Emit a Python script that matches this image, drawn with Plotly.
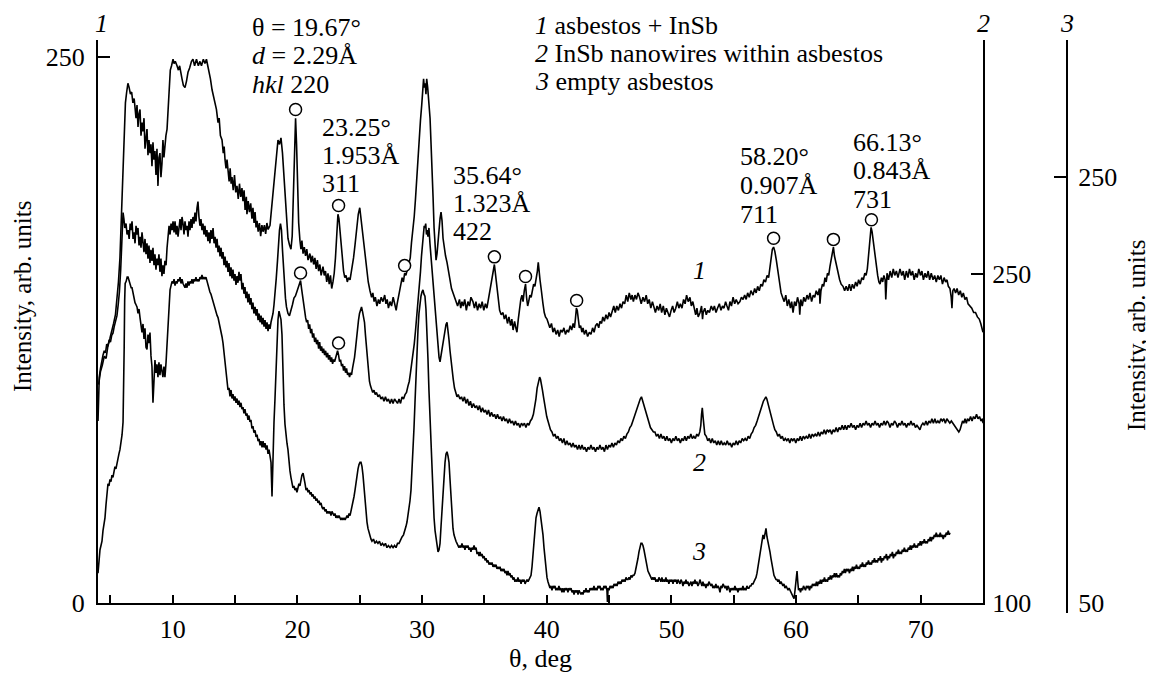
import plotly.graph_objects as go

# ---------------- data (theta in deg, intensity in arb. units of each curve's own axis) ----------------
curve1 = [
(4.05,100),(4.2,106),(4.35,109),(4.5,113),(4.65,112),(4.8,118),(4.95,121),(5.1,124),(5.25,128),(5.4,132),(5.52,139),(5.64,147),(5.76,158),(5.88,176),(6.0,200),(6.1,218),(6.2,229),(6.3,234),(6.4,238),(6.5,236),
(6.6,233),(6.7,234),(6.8,229),(6.9,231),(6.97,226),(7.05,222),(7.13,228),(7.21,218),(7.29,224),(7.37,226),(7.45,214),(7.53,220),(7.61,216),(7.69,222),(7.77,208),(7.85,215),(7.93,217),(8.01,205),(8.09,212),(8.17,206),(8.25,210),(8.33,200),(8.41,211),(8.49,203),(8.57,207),(8.65,196),(8.73,208),(8.81,191),(8.89,204),(8.97,206),(9.05,195),(9.13,201),(9.21,212),(9.29,204),(9.37,211),(9.45,214),(9.54,217),(9.62,226),(9.7,236),(9.8,244),(9.9,246),(10.02,249),
(10.1,247),(10.2,248),(10.34,246),(10.45,244),(10.55,246),(10.65,242),(10.74,240),(10.85,237),(10.98,236),(11.1,239),(11.22,243),(11.35,245),(11.5,248),(11.62,249),(11.75,246),(11.9,249),(12.05,246),(12.18,248),(12.3,246),(12.45,249),(12.58,247),(12.7,249),(12.82,246),(12.92,242),(13.02,240),(13.15,235),(13.27,232),(13.39,229),(13.5,226),(13.63,220),(13.72,222),(13.82,214),(13.95,212),(14.05,206),(14.12,209),(14.19,203),(14.27,199),(14.35,203),(14.43,196),(14.52,193),(14.6,199),(14.68,192),(14.75,195),(14.85,189),(14.95,196),(15.05,188),(15.15,191),(15.25,185),(15.35,192),(15.45,186),(15.55,190),(15.63,184),(15.72,189),(15.8,180),(15.9,186),(15.95,178),(16.05,184),(16.15,179),(16.25,183),(16.35,176),(16.43,181),(16.52,174),(16.6,179),(16.68,172),(16.76,175),(16.85,170),(16.95,174),(17.05,168),(17.15,173),(17.24,170),(17.35,173),(17.45,169),(17.55,174),(17.65,171),(17.8,173),
(17.92,180),(18.05,188),(18.2,196),(18.32,206),(18.44,212),(18.56,210),(18.68,213),(18.8,206),(18.9,197),(19.0,190),(19.1,178),(19.24,167),(19.36,164),(19.48,162),(19.58,168),(19.67,190),(19.76,214),(19.85,222),(19.93,210),(20.01,190),(20.1,174),(20.2,166),(20.28,162),(20.36,166),(20.45,160),(20.55,163),(20.65,159),(20.75,162),(20.85,157),(21.0,160),(21.1,156),(21.2,159),(21.3,155),(21.4,158),(21.5,153),(21.6,157),(21.7,152),(21.8,155),(21.9,150),(22.05,154),(22.15,150),(22.25,152),(22.35,147),(22.45,151),(22.55,146),(22.65,150),(22.75,144),(22.85,147),(22.95,151),(23.05,158),(23.15,168),(23.25,178),(23.33,176),(23.41,170),(23.5,163),(23.6,156),(23.7,152),(23.8,149),(23.9,150),(24.0,147),(24.1,149),(24.22,148),(24.35,152),(24.5,158),(24.62,164),(24.75,172),(24.88,178),(25.0,181),(25.1,176),(25.22,170),(25.32,165),(25.42,160),(25.55,153),(25.68,147),(25.82,143),(25.95,140),(26.05,142),(26.15,138),(26.25,140),(26.38,136),(26.5,139),(26.6,137),(26.72,140),(26.86,138),(27.0,141),(27.1,137),(27.2,139),(27.3,135),(27.43,138),(27.55,136),(27.68,140),(27.8,137),(27.92,134),(28.0,137),(28.1,140),(28.2,144),(28.3,147),(28.4,149),(28.5,147),(28.6,151),(28.7,150),(28.82,153),(28.95,156),(29.05,158),(29.15,165),(29.27,171),(29.37,177),(29.47,185),(29.57,195),(29.67,204),(29.77,213),(29.87,221),(29.97,228),(30.05,235),(30.12,240),(30.18,236),(30.25,238),(30.31,233),(30.37,240),(30.45,236),(30.55,229),(30.64,222),(30.72,210),(30.8,200),(30.88,186),(30.96,172),(31.04,163),(31.12,157),(31.2,160),(31.28,166),(31.36,172),(31.44,176),(31.52,179),(31.6,175),(31.68,167),(31.78,162),(31.88,159),(32.0,156),(32.12,151),(32.24,148),(32.36,144),(32.48,142),(32.6,140),(32.72,138),(32.85,136),(33.0,139),(33.1,135),(33.2,138),(33.3,136),(33.42,139),(33.55,134),(33.68,138),(33.8,136),(33.92,140),(34.08,138),(34.2,135),(34.32,138),(34.45,134),(34.58,137),(34.7,135),(34.82,138),(34.95,134),(35.08,137),(35.2,135),(35.32,139),(35.45,142),(35.58,146),(35.7,151),(35.8,155),(35.9,150),(36.0,144),(36.1,139),(36.22,134),(36.35,132),(36.49,133),(36.6,130),(36.72,132),(36.85,128),(36.97,131),(37.1,127),(37.2,130),(37.3,125),(37.42,129),(37.52,126),(37.61,124),(37.72,130),(37.82,135),(37.92,139),(38.01,141),(38.1,138),(38.2,143),(38.3,146),(38.38,140),(38.47,136),(38.55,138),(38.65,141),(38.75,140),(38.85,144),(38.95,146),(39.05,145),(39.15,148),(39.25,152),(39.32,156),(39.38,151),(39.46,148),(39.55,144),(39.62,139),(39.7,137),(39.8,133),(39.9,131),(40.02,130),(40.12,128),(40.25,126),(40.38,128),(40.5,124),(40.62,126),(40.75,123),(40.88,125),(41.0,122),(41.12,125),(41.25,124),(41.38,126),(41.5,123),(41.63,125),(41.75,124),(41.88,127),(42.0,125),(42.12,128),(42.22,126),(42.3,130),(42.38,135),(42.45,134),(42.52,129),(42.62,126),(42.72,127),(42.82,124),(42.91,126),(43.02,123),(43.15,125),(43.28,122),(43.42,124),(43.55,123),(43.68,126),(43.8,124),(43.92,127),(44.05,128),(44.17,126),(44.27,129),(44.4,128),(44.5,131),(44.62,129),(44.75,132),(44.88,130),(45.0,133),(45.12,131),(45.25,134),(45.38,136),(45.5,133),(45.62,136),(45.75,134),(45.88,137),(46.0,135),(46.12,138),(46.25,137),(46.38,141),(46.5,138),(46.62,142),(46.75,139),(46.85,141),(46.95,138),(47.08,141),(47.2,139),(47.32,142),(47.45,140),(47.58,137),(47.72,140),(47.85,138),(47.98,141),(48.1,137),(48.22,139),(48.35,135),(48.48,138),(48.6,136),(48.72,133),(48.85,136),(48.98,134),(49.1,137),(49.22,133),(49.35,136),(49.48,132),(49.6,135),(49.72,133),(49.85,131),(49.98,134),(50.1,136),(50.22,133),(50.35,135),(50.48,138),(50.6,135),(50.72,137),(50.85,135),(50.98,139),(51.1,137),(51.22,141),(51.35,138),(51.49,140),(51.6,136),(51.72,138),(51.85,134),(51.95,132),(52.05,135),(52.15,131),(52.3,133),(52.42,136),(52.5,130),(52.55,133),(52.68,135),(52.8,132),(52.92,134),(53.05,133),(53.2,136),(53.34,134),(53.45,136),(53.58,133),(53.7,135),(53.85,137),(53.98,134),(54.1,136),(54.22,135),(54.35,138),(54.46,136),(54.58,134),(54.7,138),(54.82,136),(54.95,140),(55.08,137),(55.2,139),(55.35,137),(55.5,138),(55.62,140),(55.75,139),(55.88,141),(56.0,139),(56.12,142),(56.25,140),(56.38,143),(56.55,141),(56.68,144),(56.8,142),(56.92,145),(57.05,143),(57.18,146),(57.3,145),(57.42,148),(57.55,147),(57.68,150),(57.8,149),(57.9,153),(58.0,158),(58.1,162),(58.2,163),(58.3,161),(58.42,157),(58.55,152),(58.68,146),(58.8,142),(58.92,140),(59.05,138),(59.18,141),(59.3,136),(59.42,139),(59.55,135),(59.65,138),(59.76,133),(59.88,138),(60.0,136),(60.12,140),(60.25,137),(60.3,132),(60.38,139),(60.5,136),(60.62,140),(60.75,138),(60.88,141),(61.0,139),(61.12,142),(61.25,138),(61.38,141),(61.5,140),(61.62,143),(61.75,141),(61.88,144),(61.92,137),(62.0,143),(62.12,146),(62.22,145),(62.32,149),(62.42,147),(62.52,151),(62.62,150),(62.72,154),(62.82,158),(62.92,162),(63.0,163),(63.08,159),(63.18,156),(63.28,154),(63.38,151),(63.5,148),(63.62,146),(63.77,145),(63.9,143),(64.02,145),(64.15,143),(64.28,146),(64.4,143),(64.52,146),(64.65,144),(64.78,147),(64.9,145),(65.02,148),(65.15,146),(65.28,149),(65.4,148),(65.52,151),(65.62,150),(65.72,153),(65.8,158),(65.88,165),(65.95,170),(66.02,172),(66.1,170),(66.18,166),(66.27,162),(66.36,158),(66.45,154),(66.55,150),(66.65,147),(66.74,146),(66.85,149),(66.95,147),(67.05,150),(67.15,148),(67.2,139),(67.3,151),(67.42,148),(67.55,152),(67.68,149),(67.8,153),(67.92,150),(68.05,152),(68.18,149),(68.34,153),(68.48,150),(68.6,152),(68.72,148),(68.85,152),(68.98,149),(69.1,153),(69.22,150),(69.35,152),(69.48,148),(69.6,151),(69.72,149),(69.85,153),(69.98,150),(70.1,152),(70.22,148),(70.35,151),(70.48,149),(70.6,152),(70.72,148),(70.85,151),(70.99,148),(71.12,150),(71.25,147),(71.38,150),(71.5,148),(71.62,150),(71.75,146),(71.88,149),(72.0,147),(72.11,148),(72.22,145),(72.35,144),(72.45,140),(72.51,135),(72.58,143),(72.68,144),(72.8,142),(72.92,144),(73.05,141),(73.18,143),(73.3,140),(73.42,142),(73.55,139),(73.68,140),(73.8,137),(73.96,136),(74.1,135),(74.25,133),(74.4,133),(74.55,131),(74.7,130),(74.82,128),(74.92,126),(75.0,124),
]

curve2 = [
(4.0,183),(4.05,196),(4.1,203),(4.2,207),(4.3,211),(4.4,213),(4.5,215),(4.6,214),(4.7,218),(4.8,217),(4.9,220),(5.0,219),(5.1,222),(5.2,223),(5.3,226),(5.4,228),(5.52,231),(5.62,236),(5.72,242),(5.82,252),(5.9,262),(5.96,272),(6.01,278),(6.08,275),(6.15,271),(6.25,273),(6.33,268),(6.41,270),(6.5,266),(6.58,273),(6.65,270),(6.73,274),(6.81,266),(6.89,269),(6.97,264),(7.05,272),(7.13,268),(7.21,271),(7.29,263),(7.37,267),(7.45,262),(7.53,269),(7.61,265),(7.69,260),(7.77,266),(7.85,259),(7.93,264),(8.01,257),(8.09,263),(8.17,255),(8.25,261),(8.33,256),(8.41,262),(8.49,254),(8.57,259),(8.65,252),(8.73,257),(8.81,254),(8.89,259),(8.97,251),(9.05,257),(9.13,249),(9.21,254),(9.29,250),(9.37,256),(9.46,254),(9.54,262),(9.62,269),(9.7,272),(9.78,268),(9.86,273),(9.94,270),(10.02,274),(10.1,269),(10.18,274),(10.26,268),(10.34,272),(10.42,267),(10.5,271),(10.58,275),(10.66,270),(10.74,276),(10.82,273),(10.9,268),(10.98,274),(11.06,270),(11.14,272),(11.22,267),(11.3,274),(11.38,270),(11.46,275),(11.54,271),(11.62,276),(11.7,273),(11.78,278),(11.86,274),(11.94,280),(12.02,283),(12.1,276),(12.18,272),(12.26,275),(12.34,270),(12.42,273),(12.5,268),(12.58,272),(12.66,267),(12.74,270),(12.82,265),(12.9,269),(12.98,264),(13.06,270),(13.14,266),(13.23,271),(13.31,264),(13.39,267),(13.47,262),(13.55,266),(13.63,260),(13.71,263),(13.79,258),(13.87,262),(13.95,257),(14.03,260),(14.11,254),(14.19,258),(14.27,253),(14.35,256),(14.43,251),(14.51,255),(14.59,249),(14.67,253),(14.75,248),(14.83,252),(14.91,247),(14.99,250),(15.07,245),(15.15,249),(15.23,246),(15.31,251),(15.39,247),(15.47,250),(15.55,243),(15.63,246),(15.71,241),(15.79,244),(15.87,239),(15.95,242),(16.03,237),(16.11,241),(16.19,236),(16.27,239),(16.35,234),(16.43,237),(16.51,232),(16.6,235),(16.68,231),(16.76,234),(16.84,229),(16.92,232),(17.0,228),(17.08,231),(17.16,227),(17.24,230),(17.32,226),(17.4,229),(17.48,225),(17.56,228),(17.64,224),(17.72,227),(17.8,225),(17.88,228),(17.96,230),(18.04,232),(18.12,236),(18.2,240),(18.3,248),(18.4,256),(18.48,264),(18.56,270),(18.64,273),(18.72,270),(18.8,261),(18.88,252),(18.96,244),(19.04,239),(19.12,235),(19.24,232),(19.36,231),(19.48,233),(19.6,236),(19.72,239),(19.84,240),(19.96,242),(20.06,244),(20.16,246),(20.25,247),(20.34,243),(20.42,239),(20.5,235),(20.58,233),(20.66,230),(20.74,228),(20.82,229),(20.9,225),(20.98,227),(21.06,223),(21.14,225),(21.22,221),(21.3,223),(21.38,219),(21.46,221),(21.54,218),(21.62,220),(21.7,216),(21.78,219),(21.86,215),(21.94,217),(22.02,214),(22.1,216),(22.18,213),(22.26,215),(22.34,212),(22.42,214),(22.5,211),(22.58,213),(22.66,210),(22.74,212),(22.82,209),(22.9,211),(22.98,210),(23.06,212),(23.14,214),(23.22,215),(23.3,213),(23.38,210),(23.46,211),(23.54,208),(23.62,209),(23.7,206),(23.78,208),(23.86,205),(23.94,207),(24.02,204),(24.1,205),(24.18,203),(24.26,205),(24.34,204),(24.42,207),(24.5,209),(24.58,212),(24.66,216),(24.74,221),(24.82,226),(24.9,229),(24.98,232),(25.06,234),(25.14,235),(25.22,233),(25.3,231),(25.38,228),(25.46,222),(25.54,216),(25.62,210),(25.7,205),(25.78,201),(25.86,199),(25.94,198),(26.04,196),(26.14,197),(26.24,195),(26.34,196),(26.46,194),(26.58,195),(26.7,193),(26.82,194),(26.94,192),(27.06,194),(27.18,192),(27.3,193),(27.43,191),(27.55,193),(27.67,191),(27.79,193),(27.91,192),(28.03,191),(28.15,193),(28.27,191),(28.39,194),(28.51,193),(28.63,195),(28.75,196),(28.87,199),(28.97,201),(29.07,205),(29.17,209),(29.27,213),(29.37,218),(29.47,224),(29.57,230),(29.67,236),(29.77,243),(29.87,251),(29.95,258),(30.03,265),(30.1,269),(30.17,272),(30.23,271),(30.29,273),(30.35,268),(30.41,270),(30.47,267),(30.55,271),(30.63,264),(30.71,258),(30.79,251),(30.87,246),(30.96,241),(31.04,234),(31.12,228),(31.2,223),(31.28,216),(31.36,212),(31.44,210),(31.52,213),(31.6,216),(31.68,219),(31.76,223),(31.84,225),(31.92,227),(32.0,228),(32.08,225),(32.16,220),(32.24,215),(32.32,210),(32.4,206),(32.5,202),(32.6,198),(32.7,196),(32.8,194),(32.9,195),(33.04,193),(33.16,194),(33.28,192),(33.4,194),(33.52,191),(33.64,193),(33.76,190),(33.88,192),(34.0,189),(34.12,191),(34.25,189),(34.37,190),(34.49,188),(34.61,190),(34.73,187),(34.85,189),(34.97,187),(35.09,188),(35.21,186),(35.33,188),(35.45,185),(35.57,187),(35.69,185),(35.81,186),(35.93,184),(36.05,186),(36.17,184),(36.29,185),(36.41,183),(36.53,185),(36.65,183),(36.77,184),(36.89,182),(37.01,184),(37.13,182),(37.25,183),(37.37,181),(37.49,183),(37.61,181),(37.73,182),(37.85,180),(37.97,182),(38.09,181),(38.21,182),(38.33,180),(38.45,182),(38.57,181),(38.69,183),(38.81,184),(38.93,186),(39.03,189),(39.13,193),(39.23,198),(39.33,201),(39.43,203),(39.5,202),(39.58,200),(39.66,197),(39.74,194),(39.82,191),(39.9,188),(40.0,185),(40.1,183),(40.2,181),(40.3,179),(40.42,178),(40.54,176),(40.66,177),(40.78,175),(40.9,176),(41.02,174),(41.14,175),(41.26,173),(41.38,175),(41.5,172),(41.62,174),(41.74,172),(41.87,173),(41.99,171),(42.11,173),(42.23,171),(42.35,172),(42.47,170),(42.59,172),(42.71,170),(42.83,172),(42.95,170),(43.07,171),(43.19,169),(43.31,171),(43.43,170),(43.55,172),(43.67,170),(43.79,171),(43.91,169),(44.03,171),(44.15,170),(44.27,172),(44.39,170),(44.51,171),(44.63,169),(44.75,172),(44.87,170),(44.99,172),(45.11,171),(45.23,173),(45.35,171),(45.47,173),(45.59,172),(45.71,174),(45.83,173),(45.95,175),(46.07,174),(46.19,176),(46.31,175),(46.43,177),(46.55,178),(46.67,180),(46.79,181),(46.91,183),(47.03,185),(47.15,188),(47.27,190),(47.39,192),(47.5,193),(47.6,194),(47.7,192),(47.8,190),(47.9,188),(48.0,186),(48.1,184),(48.2,182),(48.32,180),(48.44,179),(48.56,178),(48.68,178),(48.8,176),(48.92,177),(49.04,175),(49.16,177),(49.28,175),(49.4,176),(49.52,174),(49.64,176),(49.76,174),(49.88,175),(50.0,173),(50.12,175),(50.24,174),(50.36,176),(50.48,174),(50.6,175),(50.72,173),(50.84,175),(50.96,174),(51.08,176),(51.2,174),(51.32,176),(51.44,175),(51.56,177),(51.68,175),(51.8,176),(51.92,175),(52.04,177),(52.16,176),(52.28,178),(52.36,181),(52.42,186),(52.48,189),(52.54,185),(52.6,180),(52.68,177),(52.8,176),(52.92,174),(53.04,175),(53.16,173),(53.28,175),(53.4,173),(53.52,174),(53.64,172),(53.76,174),(53.88,172),(54.0,174),(54.12,172),(54.24,173),(54.36,172),(54.48,174),(54.6,172),(54.72,173),(54.84,171),(54.96,173),(55.08,172),(55.2,174),(55.32,172),(55.44,174),(55.56,173),(55.68,175),(55.8,174),(55.92,175),(56.04,174),(56.16,176),(56.28,175),(56.4,177),(56.52,178),(56.64,180),(56.76,181),(56.88,183),(56.98,185),(57.08,187),(57.18,188),(57.28,190),(57.38,192),(57.48,193),(57.58,194),(57.66,193),(57.74,191),(57.82,190),(57.9,188),(58.0,186),(58.1,183),(58.2,181),(58.3,179),(58.42,178),(58.54,176),(58.66,177),(58.78,175),(58.9,176),(59.02,174),(59.14,175),(59.26,174),(59.38,175),(59.5,173),(59.62,175),(59.74,174),(59.86,175),(59.98,173),(60.1,175),(60.22,174),(60.34,176),(60.46,174),(60.58,176),(60.7,175),(60.82,176),(60.94,175),(61.06,177),(61.18,175),(61.3,177),(61.42,176),(61.54,177),(61.66,176),(61.78,178),(61.9,176),(62.02,178),(62.14,177),(62.26,179),(62.38,177),(62.5,179),(62.62,178),(62.74,179),(62.86,177),(62.98,179),(63.1,178),(63.22,180),(63.34,178),(63.46,180),(63.58,179),(63.7,181),(63.82,179),(63.94,181),(64.06,179),(64.18,181),(64.3,180),(64.42,182),(64.54,180),(64.66,181),(64.78,179),(64.9,181),(65.02,180),(65.14,182),(65.26,180),(65.38,182),(65.5,181),(65.62,183),(65.74,181),(65.86,182),(65.98,180),(66.1,182),(66.22,181),(66.34,183),(66.46,181),(66.58,182),(66.7,180),(66.82,182),(66.94,181),(67.06,183),(67.18,181),(67.3,183),(67.42,182),(67.54,180),(67.66,182),(67.78,181),(67.9,183),(68.02,182),(68.14,180),(68.26,182),(68.38,181),(68.5,183),(68.62,181),(68.74,182),(68.86,180),(68.98,182),(69.1,181),(69.22,183),(69.34,181),(69.46,182),(69.58,180),(69.7,181),(69.82,180),(69.94,179),(70.06,181),(70.18,182),(70.3,181),(70.42,183),(70.54,181),(70.66,183),(70.78,182),(70.9,184),(71.02,182),(71.14,184),(71.26,182),(71.38,183),(71.5,182),(71.62,184),(71.74,183),(71.86,184),(71.98,182),(72.1,184),(72.22,183),(72.34,182),(72.46,183),(72.58,182),(72.7,181),(72.82,180),(72.94,179),(73.06,178),(73.16,179),(73.26,181),(73.36,183),(73.46,182),(73.56,184),(73.66,182),(73.76,184),(73.88,183),(74.0,185),(74.12,183),(74.24,185),(74.36,184),(74.48,186),(74.6,184),(74.72,185),(74.84,183),(74.96,184),(75.0,182),
]

curve3 = [
(4.0,64),(4.08,70),(4.16,75),(4.24,77),(4.32,79),(4.4,84),(4.48,87),(4.56,90),(4.64,96),(4.72,102),(4.8,106),(4.88,105),(4.96,108),(5.04,107),(5.12,110),(5.2,109),(5.28,112),(5.36,114),(5.44,113),(5.52,116),(5.6,118),(5.68,120),(5.76,122),(5.85,125),(5.93,129),(6.01,135),(6.06,150),(6.1,170),(6.14,192),(6.18,200),(6.26,201),(6.34,203),(6.41,203),(6.5,201),(6.58,200),(6.66,198),(6.73,198),(6.81,195),(6.89,193),(6.97,191),(7.05,190),(7.13,189),(7.21,186),(7.29,188),(7.37,184),(7.45,180),(7.53,177),(7.61,181),(7.69,174),(7.77,179),(7.85,170),(7.93,169),(8.01,176),(8.09,172),(8.17,177),(8.25,166),(8.33,161),(8.41,144),(8.49,160),(8.57,164),(8.65,158),(8.73,162),(8.81,156),(8.89,163),(8.97,157),(9.05,162),(9.13,159),(9.21,156),(9.29,161),(9.37,156),(9.46,163),(9.54,172),(9.62,183),(9.7,193),(9.78,197),(9.86,199),(9.94,201),(10.02,200),(10.1,202),(10.18,199),(10.26,201),(10.34,200),(10.42,202),(10.5,201),(10.58,203),(10.66,200),(10.74,202),(10.82,200),(10.9,199),(10.98,198),(11.06,200),(11.14,198),(11.22,201),(11.3,199),(11.38,201),(11.46,200),(11.54,202),(11.62,200),(11.7,202),(11.78,201),(11.86,203),(11.94,201),(12.02,202),(12.1,201),(12.18,203),(12.26,202),(12.34,204),(12.42,202),(12.5,203),(12.58,202),(12.66,203),(12.74,201),(12.82,200),(12.9,198),(12.98,196),(13.06,195),(13.15,193),(13.23,191),(13.31,190),(13.39,188),(13.47,187),(13.55,185),(13.63,184),(13.71,182),(13.79,180),(13.87,177),(13.95,175),(14.03,172),(14.11,167),(14.19,162),(14.27,159),(14.35,153),(14.43,150),(14.51,151),(14.59,147),(14.67,150),(14.75,146),(14.83,148),(14.91,145),(14.99,147),(15.07,144),(15.15,146),(15.23,143),(15.31,145),(15.39,142),(15.47,144),(15.55,141),(15.63,142),(15.71,139),(15.79,141),(15.87,138),(15.95,139),(16.03,136),(16.11,138),(16.19,135),(16.27,136),(16.35,132),(16.43,133),(16.51,130),(16.6,131),(16.68,128),(16.76,129),(16.84,126),(16.92,127),(17.0,124),(17.08,126),(17.16,123),(17.24,126),(17.32,123),(17.4,125),(17.48,122),(17.56,124),(17.64,120),(17.72,122),(17.8,118),(17.88,116),(17.96,100),(18.04,122),(18.12,135),(18.2,146),(18.28,162),(18.36,175),(18.44,183),(18.52,187),(18.6,185),(18.68,183),(18.76,176),(18.84,154),(18.92,143),(19.0,134),(19.08,128),(19.16,125),(19.24,122),(19.32,116),(19.4,112),(19.48,109),(19.56,106),(19.64,104),(19.72,105),(19.8,103),(19.88,104),(19.96,102),(20.04,104),(20.12,106),(20.2,105),(20.28,109),(20.36,110),(20.45,111),(20.53,107),(20.61,106),(20.69,103),(20.77,104),(20.85,102),(20.93,103),(21.01,101),(21.09,102),(21.17,100),(21.25,101),(21.33,99),(21.41,100),(21.49,98),(21.57,99),(21.65,97),(21.73,98),(21.81,96),(21.89,97),(21.97,95),(22.05,94),(22.13,95),(22.21,93),(22.29,94),(22.37,92),(22.45,93),(22.53,92),(22.61,93),(22.69,91),(22.77,93),(22.85,92),(22.93,91),(23.01,92),(23.09,90),(23.17,91),(23.25,90),(23.33,91),(23.41,90),(23.49,89),(23.57,90),(23.65,89),(23.74,90),(23.82,89),(23.9,90),(23.98,91),(24.06,90),(24.14,92),(24.22,91),(24.3,93),(24.38,95),(24.46,97),(24.54,100),(24.62,103),(24.7,107),(24.78,110),(24.86,113),(24.94,115),(25.02,116),(25.1,116),(25.18,114),(25.26,110),(25.34,104),(25.42,97),(25.5,92),(25.58,88),(25.66,85),(25.74,83),(25.82,81),(25.9,80),(25.98,79),(26.1,80),(26.22,78),(26.34,79),(26.46,78),(26.58,79),(26.7,77),(26.82,78),(26.94,77),(27.06,78),(27.18,76),(27.3,77),(27.43,76),(27.55,77),(27.67,76),(27.79,77),(27.91,76),(28.03,78),(28.15,78),(28.27,80),(28.39,81),(28.51,82),(28.63,84),(28.71,86),(28.79,88),(28.87,91),(28.95,94),(29.03,98),(29.11,103),(29.19,111),(29.27,121),(29.35,132),(29.43,144),(29.51,157),(29.59,168),(29.67,178),(29.75,186),(29.83,191),(29.91,194),(29.99,196),(30.07,197),(30.15,195),(30.23,194),(30.31,188),(30.39,178),(30.47,165),(30.55,150),(30.64,136),(30.72,122),(30.8,110),(30.88,99),(30.96,90),(31.04,84),(31.12,80),(31.2,76),(31.28,74),(31.36,75),(31.44,78),(31.52,86),(31.6,95),(31.68,104),(31.76,111),(31.84,116),(31.92,120),(32.0,121),(32.08,119),(32.16,116),(32.24,108),(32.32,100),(32.4,91),(32.48,85),(32.56,82),(32.64,80),(32.72,79),(32.8,78),(32.88,77),(32.96,76),(33.04,77),(33.12,76),(33.2,78),(33.28,76),(33.36,77),(33.44,75),(33.52,77),(33.6,76),(33.68,77),(33.76,75),(33.84,76),(33.92,74),(34.0,76),(34.08,75),(34.17,77),(34.25,75),(34.33,76),(34.41,73),(34.49,74),(34.57,72),(34.65,74),(34.73,72),(34.81,73),(34.89,71),(34.97,72),(35.05,70),(35.13,71),(35.21,69),(35.29,70),(35.37,68),(35.45,69),(35.53,68),(35.61,69),(35.69,67),(35.77,68),(35.85,67),(35.93,68),(36.01,66),(36.09,67),(36.17,66),(36.25,67),(36.33,65),(36.41,66),(36.49,65),(36.57,66),(36.65,64),(36.73,65),(36.81,63),(36.89,65),(36.97,63),(37.05,64),(37.13,62),(37.21,63),(37.29,61),(37.37,62),(37.45,60),(37.53,61),(37.61,60),(37.69,62),(37.77,60),(37.86,61),(37.94,59),(38.02,61),(38.1,60),(38.18,61),(38.26,59),(38.34,60),(38.42,61),(38.5,60),(38.58,61),(38.66,62),(38.74,63),(38.82,67),(38.9,73),(38.98,80),(39.06,86),(39.14,90),(39.22,92),(39.3,94),(39.38,95),(39.46,93),(39.54,90),(39.62,86),(39.7,82),(39.78,76),(39.86,71),(39.94,67),(40.02,62),(40.1,60),(40.18,58),(40.26,57),(40.34,58),(40.42,56),(40.5,58),(40.58,57),(40.66,58),(40.74,56),(40.82,57),(40.9,56),(40.98,58),(41.06,56),(41.14,57),(41.22,55),(41.3,57),(41.38,55),(41.46,57),(41.54,56),(41.62,57),(41.7,55),(41.78,57),(41.87,56),(41.95,57),(42.03,55),(42.11,56),(42.19,54),(42.27,56),(42.35,55),(42.43,56),(42.51,54),(42.59,56),(42.67,55),(42.75,54),(42.83,55),(42.91,54),(42.99,56),(43.07,55),(43.15,57),(43.23,55),(43.31,56),(43.39,55),(43.47,57),(43.55,56),(43.63,57),(43.71,56),(43.79,58),(43.87,56),(43.95,57),(44.03,56),(44.11,58),(44.19,57),(44.27,58),(44.35,56),(44.43,57),(44.51,56),(44.59,58),(44.67,57),(44.75,58),(44.83,56),(44.87,50.5),(44.92,57),(45.0,56),(45.08,58),(45.16,57),(45.24,58),(45.32,57),(45.4,59),(45.48,58),(45.56,59),(45.64,58),(45.72,60),(45.8,59),(45.88,60),(45.96,59),(46.04,61),(46.12,60),(46.2,61),(46.28,60),(46.36,62),(46.44,61),(46.52,61),(46.6,62),(46.68,61),(46.76,63),(46.84,62),(46.92,63),(47.0,63),(47.08,64),(47.16,66),(47.24,69),(47.32,71),(47.4,74),(47.48,76),(47.56,78),(47.64,78),(47.72,77),(47.8,75),(47.88,72),(47.96,70),(48.04,67),(48.12,65),(48.2,64),(48.28,63),(48.36,62),(48.44,61),(48.52,62),(48.6,61),(48.68,62),(48.76,60),(48.84,61),(48.92,60),(49.0,62),(49.08,61),(49.16,60),(49.24,62),(49.32,60),(49.4,61),(49.48,60),(49.56,62),(49.64,60),(49.72,61),(49.8,59),(49.88,61),(49.97,60),(50.05,61),(50.13,59),(50.21,61),(50.29,60),(50.37,61),(50.45,59),(50.53,61),(50.61,60),(50.69,59),(50.77,61),(50.85,60),(50.93,58),(51.01,60),(51.09,59),(51.17,61),(51.25,59),(51.33,60),(51.41,58),(51.49,59),(51.57,60),(51.65,58),(51.73,60),(51.81,59),(51.89,61),(51.97,59),(52.05,60),(52.13,58),(52.21,59),(52.29,61),(52.37,59),(52.45,58),(52.53,60),(52.61,58),(52.69,59),(52.77,57),(52.85,59),(52.93,58),(53.01,60),(53.09,59),(53.17,58),(53.25,59),(53.33,57),(53.41,58),(53.49,57),(53.57,59),(53.65,57),(53.74,58),(53.82,57),(53.9,55),(53.98,58),(54.06,57),(54.14,59),(54.22,58),(54.3,57),(54.38,58),(54.46,56),(54.54,58),(54.62,57),(54.7,55),(54.78,57),(54.86,56),(54.94,57),(55.02,56),(55.1,58),(55.18,56),(55.26,57),(55.34,55),(55.42,57),(55.5,56),(55.58,57),(55.66,56),(55.74,58),(55.82,56),(55.9,57),(55.98,56),(56.06,58),(56.14,57),(56.22,57),(56.3,58),(56.38,58),(56.46,59),(56.55,59),(56.63,60),(56.71,61),(56.79,62),(56.87,64),(56.95,67),(57.03,70),(57.11,72),(57.19,76),(57.27,78),(57.35,82),(57.43,80),(57.51,84),(57.59,85),(57.67,81),(57.75,79),(57.83,77),(57.91,74),(57.99,71),(58.07,68),(58.15,65),(58.23,63),(58.31,62),(58.39,61),(58.47,61),(58.55,60),(58.63,61),(58.71,59),(58.79,60),(58.87,59),(58.95,58),(59.03,59),(59.11,57),(59.2,58),(59.28,57),(59.36,56),(59.44,57),(59.52,56),(59.6,55),(59.68,54),(59.76,53),(59.84,52),(59.92,56),(60.0,60),(60.08,65),(60.14,60),(60.2,56),(60.28,57),(60.36,55),(60.44,57),(60.52,56),(60.6,58),(60.68,57),(60.76,56),(60.84,58),(60.92,57),(61.0,58),(61.08,56),(61.16,58),(61.24,57),(61.32,59),(61.4,58),(61.48,59),(61.56,58),(61.64,60),(61.72,58),(61.8,60),(61.88,59),(61.96,61),(62.04,59),(62.12,61),(62.2,60),(62.28,62),(62.36,60),(62.44,61),(62.52,60),(62.6,62),(62.68,61),(62.76,63),(62.84,61),(62.92,63),(63.0,62),(63.08,64),(63.16,62),(63.24,64),(63.32,62),(63.4,63),(63.48,62),(63.56,64),(63.64,63),(63.72,65),(63.8,64),(63.88,66),(63.96,64),(64.04,66),(64.12,65),(64.2,66),(64.29,64),(64.37,66),(64.45,65),(64.53,67),(64.61,65),(64.69,67),(64.77,66),(64.85,68),(64.93,66),(65.01,67),(65.09,66),(65.17,68),(65.25,67),(65.33,69),(65.41,67),(65.49,68),(65.57,67),(65.65,69),(65.73,68),(65.81,70),(65.89,68),(65.97,69),(66.05,68),(66.13,70),(66.21,69),(66.29,71),(66.37,69),(66.45,70),(66.53,69),(66.61,71),(66.69,70),(66.77,72),(66.85,69),(66.93,71),(67.01,70),(67.09,72),(67.17,71),(67.25,73),(67.33,70),(67.41,72),(67.49,71),(67.57,73),(67.65,72),(67.73,74),(67.81,71),(67.89,73),(67.97,72),(68.05,74),(68.13,73),(68.21,75),(68.29,73),(68.37,74),(68.45,73),(68.53,75),(68.61,74),(68.69,76),(68.77,74),(68.85,75),(68.93,74),(69.01,76),(69.09,75),(69.17,77),(69.25,75),(69.33,77),(69.41,76),(69.49,78),(69.57,76),(69.65,77),(69.73,76),(69.81,78),(69.89,77),(69.97,79),(70.05,77),(70.13,79),(70.21,78),(70.29,80),(70.37,78),(70.45,79),(70.53,78),(70.61,80),(70.69,79),(70.77,81),(70.85,79),(70.93,81),(71.01,80),(71.09,82),(71.17,81),(71.25,83),(71.33,81),(71.41,82),(71.49,81),(71.57,83),(71.65,81),(71.73,82),(71.81,80),(71.89,82),(71.97,81),(72.05,83),(72.13,82),(72.21,84),(72.29,82),(72.35,83),
]

# InSb reflexes marked with open circles (theta, intensity)
circles1 = [(19.85,226),(23.3,182),(28.6,154.5),(35.8,158.5),(38.3,149.5),(42.4,138.5),(58.2,167),(63.0,166.5),(66.05,175.5)]
circles2 = [(20.25,250.5),(23.3,218.5)]

x_tickvals = [5,10,15,20,25,30,35,40,45,50,55,60,65,70]
x_ticktext = ["","10","","20","","30","","40","","50","","60","","70"]

peak_labels = [
    ["θ = 19.67°", "<i>d</i> = 2.29Å", "<i>hkl</i> 220"],
    ["23.25°", "1.953Å", "311"],
    ["35.64°", "1.323Å", "422"],
    ["58.20°", "0.907Å", "711"],
    ["66.13°", "0.843Å", "731"],
]
legend_lines = ["<i>1</i> asbestos + InSb", "<i>2</i> InSb nanowires within asbestos", "<i>3</i> empty asbestos"]

# ---------------- layout geometry ----------------
# the page body has an 8 px margin, so the figure is drawn 8 px right/down of the window origin
OFF = 8
W, H = 1154 - OFF, 673 - OFF
PLOT_L, PLOT_R, PLOT_T, PLOT_B = 98, 1067, 40, 603      # target window pixels of the plot area
L, R, T, B = PLOT_L - OFF, W - (PLOT_R - OFF), PLOT_T - OFF, H - (PLOT_B - OFF)
PW, PH = PLOT_R - PLOT_L, PLOT_B - PLOT_T
X_END = (983 - PLOT_L) / PW
FONT = "Liberation Serif, Times New Roman, serif"
FS = 26

def px(x):
    return (x - PLOT_L) / PW

def py(y):
    return (PLOT_B - y) / PH

def unzip(pairs):
    return [p[0] for p in pairs], [p[1] for p in pairs]

fig = go.Figure()
line_style = dict(color="black", width=1.6)
for data, ax in ((curve1, "y"), (curve2, "y2"), (curve3, "y3")):
    xs, ys = unzip(data)
    fig.add_trace(go.Scatter(x=xs, y=ys, mode="lines", line=line_style, yaxis=ax, hoverinfo="skip"))
for data, ax in ((circles1, "y"), (circles2, "y2")):
    xs, ys = unzip(data)
    fig.add_trace(go.Scatter(x=xs, y=ys, mode="markers", yaxis=ax,
                             marker=dict(symbol="circle", size=12, color="white",
                                         line=dict(color="black", width=1.5)),
                             hoverinfo="skip"))

axis_common = dict(showgrid=False, zeroline=False, showline=True, linecolor="black", linewidth=2,
                   ticks="inside", tickcolor="black", tickwidth=1.5,
                   tickfont=dict(family=FONT, size=FS, color="black"))

fig.update_layout(
    width=W, height=H, margin=dict(l=L, r=R, t=T, b=B, autoexpand=False),
    paper_bgcolor="white", plot_bgcolor="white", showlegend=False,
    font=dict(family=FONT, size=FS, color="black"),
    xaxis=dict(domain=[0, X_END], range=[4, 75], tickvals=x_tickvals, ticktext=x_ticktext,
               ticklen=8, ticklabelstandoff=2,
               title=dict(text="θ, deg", font=dict(family=FONT, size=FS), standoff=10),
               **axis_common),
    yaxis=dict(range=[0, 257.8], tickvals=[0, 250], ticklen=12, ticklabelstandoff=6, **axis_common),
    yaxis2=dict(range=[100, 356.7], tickvals=[100, 250], overlaying="y", side="right", anchor="x",
                ticklen=12, ticklabelstandoff=2, **axis_common),
    yaxis3=dict(range=[50, 314.3], tickvals=[50, 250], overlaying="y", side="right", anchor="free",
                position=1.0, ticklen=12, ticklabelstandoff=5, **axis_common),
)

annotations = []
def add_text(text, x, y, xanchor="left", angle=0, italic=False, size=FS):
    annotations.append(dict(text=f"<i>{text}</i>" if italic else text, x=px(x), y=py(y),
                            xref="paper", yref="paper", xanchor=xanchor, yanchor="middle",
                            showarrow=False, textangle=angle,
                            font=dict(family=FONT, size=size, color="black")))

# axis numbers
add_text("1", 101, 24, "center", italic=True)
add_text("2", 983, 24, "center", italic=True)
add_text("3", 1067, 24, "center", italic=True)
# legend
for i, t in enumerate(legend_lines):
    add_text(t, 533, 25 + i * 28.5)
# peak labels
block_pos = [(250, 27, 29), (320, 127, 28), (451, 175, 28), (738, 157, 28.5), (851, 142, 28.5)]
for lines, (bx, by, step) in zip(peak_labels, block_pos):
    for j, t in enumerate(lines):
        add_text(t, bx, by + j * step)
# curve numbers
add_text("1", 699, 270, "center", italic=True)
add_text("2", 699, 462, "center", italic=True)
add_text("3", 699, 551, "center", italic=True)
# y titles
add_text("Intensity, arb. units", 22, 297, "center", angle=-90, size=25)
add_text("Intensity, arb. units", 1137, 336, "center", angle=-90, size=25)
fig.update_layout(annotations=annotations)

# lower extension of the third axis line
fig.add_shape(type="line", xref="paper", yref="paper", x0=1.0, x1=1.0, y0=0, y1=py(613),
              line=dict(color="black", width=2))

fig.write_html("out.html")
